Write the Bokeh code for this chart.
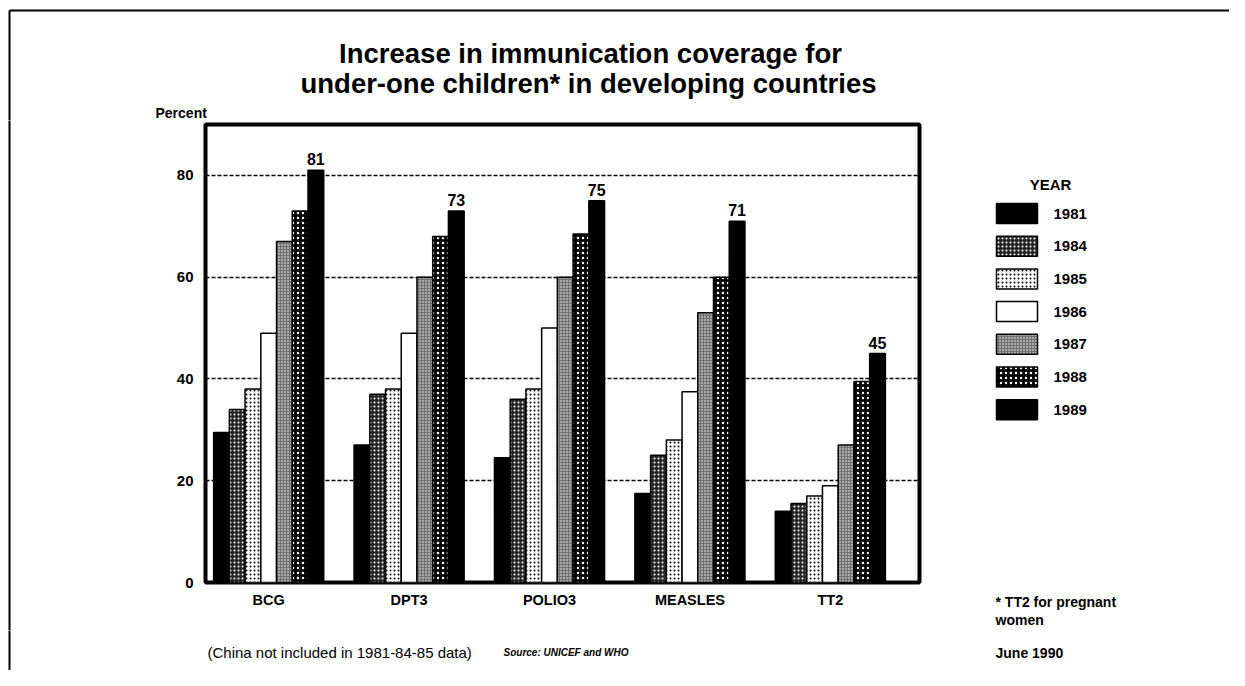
from bokeh.plotting import figure
from bokeh.layouts import column, row
from bokeh.models import ColumnDataSource, FixedTicker, LabelSet, Range1d
from bokeh.transform import dodge
from bokeh.core.properties import value
from bokeh.embed import file_html
from bokeh.resources import INLINE

# ---------------- data ----------------
categories = ["BCG", "DPT3", "POLIO3", "MEASLES", "TT2"]
years = ["1981", "1984", "1985", "1986", "1987", "1988", "1989"]
v1981 = [29.5, 27.0, 24.5, 17.5, 14.0]
v1984 = [34.0, 37.0, 36.0, 25.0, 15.5]
v1985 = [38.0, 38.0, 38.0, 28.0, 17.0]
v1986 = [49.0, 49.0, 50.0, 37.5, 19.0]
v1987 = [67.0, 60.0, 60.0, 53.0, 27.0]
v1988 = [73.0, 68.0, 68.5, 60.0, 39.5]
v1989 = [81, 73, 75, 71, 45]
y_ticks = [0, 20, 40, 60, 80]

title_lines = ["Increase in immunication coverage for",
               "under-one children* in developing countries"]
y_title = "Percent"
legend_title = "YEAR"
note_tt2 = ["* TT2 for pregnant", "women"]
note_china = "(China not included in 1981-84-85 data)"
note_source = "Source: UNICEF and WHO"
note_date = "June 1990"

# ---------------- layout constants (pixels) ----------------
FONT = "Liberation Sans"
TOTAL_W = 1229
HEAD_H = 120
MID_H = 510
FOOT_H = 40
STRIP_W = 100
MAIN_W = 868
SIDE_W = TOTAL_W - STRIP_W - MAIN_W
X0, X1 = -0.45, 4.635
Y0, Y1 = 0, 90
BW = 0.112

styles = [
    dict(fill_color="black"),
    dict(fill_color="#262626", hatch_pattern="dot", hatch_color="white", hatch_scale=4, hatch_weight=1.0),
    dict(fill_color="white", hatch_pattern="dot", hatch_color="black", hatch_scale=4, hatch_weight=0.6),
    dict(fill_color="white"),
    dict(fill_color="#707070", hatch_pattern="dot", hatch_color="white", hatch_scale=3, hatch_weight=0.8),
    dict(fill_color="black", hatch_pattern="dot", hatch_color="white", hatch_scale=5, hatch_weight=0.6),
    dict(fill_color="black"),
]


def aux(w, h):
    f = figure(width=w, height=h, x_range=Range1d(0, w), y_range=Range1d(h, 0),
               output_backend="svg", toolbar_location=None, title=None,
               x_axis_location=None, y_axis_location=None,
               min_border_left=0, min_border_right=0, min_border_top=0, min_border_bottom=0,
               frame_align=False)
    f.grid.visible = False
    f.outline_line_color = None
    f.background_fill_color = "white"
    f.border_fill_color = "white"
    return f


def txt(f, x, y, s, size, style="bold", align="left", baseline="middle"):
    f.text(x=[x], y=[y], text=[s], text_font=value(FONT), text_font_size=size,
           text_font_style=style, text_align=align, text_baseline=baseline, text_color="black")


def border_left(f, h, y_start=-20):
    f.segment(x0=[9], y0=[y_start], x1=[9], y1=[h + 20], line_color="black", line_width=2)


# ---------------- head ----------------
head = aux(TOTAL_W, HEAD_H)
head.segment(x0=[9], y0=[10], x1=[TOTAL_W + 20], y1=[10], line_color="black", line_width=2)
border_left(head, HEAD_H, 10)
txt(head, 590, 52.5, title_lines[0], "27.5px", align="center")
txt(head, 588, 83, title_lines[1], "27.5px", align="center")
txt(head, 155, 112.5, y_title, "14px")

# ---------------- left strip ----------------
strip = aux(STRIP_W, MID_H)
border_left(strip, MID_H)

# ---------------- main chart ----------------
series = [v1981, v1984, v1985, v1986, v1987, v1988, v1989]
src = ColumnDataSource(dict(x=list(range(len(categories))),
                            **{"y" + yr: vals for yr, vals in zip(years, series)}))

p = figure(width=MAIN_W, height=MID_H, x_range=Range1d(X0, X1), y_range=Range1d(Y0, Y1),
           output_backend="svg", toolbar_location=None, title=None,
           min_border_left=105, min_border_right=49, min_border_top=4, min_border_bottom=48,
           frame_align=False)
p.background_fill_color = "white"
p.border_fill_color = "white"
p.outline_line_color = "black"
p.outline_line_width = 4

for i, (yr, st) in enumerate(zip(years, styles)):
    p.vbar(x=dodge("x", (i - 3) * BW, range=p.x_range), top="y" + yr, width=BW,
           source=src, line_color="black", line_width=1.5, **st)

lab_src = ColumnDataSource(dict(x=list(range(len(categories))), y=v1989,
                                t=[str(v) for v in v1989]))
p.add_layout(LabelSet(x=dodge("x", 3 * BW, range=p.x_range), y="y", text="t", source=lab_src,
                      text_align="center", text_baseline="bottom", y_offset=5,
                      text_color="black",
                      text_font=value(FONT), text_font_style="bold", text_font_size="16px"))

p.yaxis.ticker = FixedTicker(ticks=y_ticks)
p.ygrid.ticker = FixedTicker(ticks=y_ticks)
p.xgrid.visible = False
p.ygrid.grid_line_color = "black"
p.ygrid.grid_line_dash = "4 2"
p.ygrid.grid_line_width = 1.5
p.xaxis.ticker = FixedTicker(ticks=list(range(len(categories))))
p.xaxis.major_label_overrides = {i: c for i, c in enumerate(categories)}
for ax in (p.xaxis, p.yaxis):
    ax.axis_line_color = None
    ax.major_tick_line_color = None
    ax.minor_tick_line_color = None
    ax.major_tick_in = 0
    ax.major_tick_out = 0
    ax.major_label_text_font = FONT
    ax.major_label_text_color = "black"
    ax.major_label_text_font_style = "bold"
p.yaxis.major_label_text_font_size = "15px"
p.yaxis.major_label_standoff = 12
p.xaxis.major_label_text_font_size = "14.5px"
p.xaxis.major_label_standoff = 9

# ---------------- side: legend + footnote ----------------
side = aux(SIDE_W, MID_H)
txt(side, 82, 64, legend_title, "15px", align="center")
for i, (yr, st) in enumerate(zip(years, styles)):
    top = 83 + i * 32.7
    side.quad(left=[28], right=[69], top=[top], bottom=[top + 20],
              line_color="black", line_width=1.5, **st)
    txt(side, 85, top + 10, yr, "15px")
txt(side, 27, 481, note_tt2[0], "14px")
txt(side, 27, 499, note_tt2[1], "14px")

# ---------------- foot ----------------
foot = aux(TOTAL_W, FOOT_H)
border_left(foot, FOOT_H)
txt(foot, 207, 22, note_china, "15px", style="normal")
txt(foot, 503, 22, note_source, "10px", style="bold italic")
txt(foot, 995, 22, note_date, "14px")

layout = column(head, row(strip, p, side, spacing=0), foot, spacing=0)
open("out.html", "w").write(file_html(layout, INLINE))
